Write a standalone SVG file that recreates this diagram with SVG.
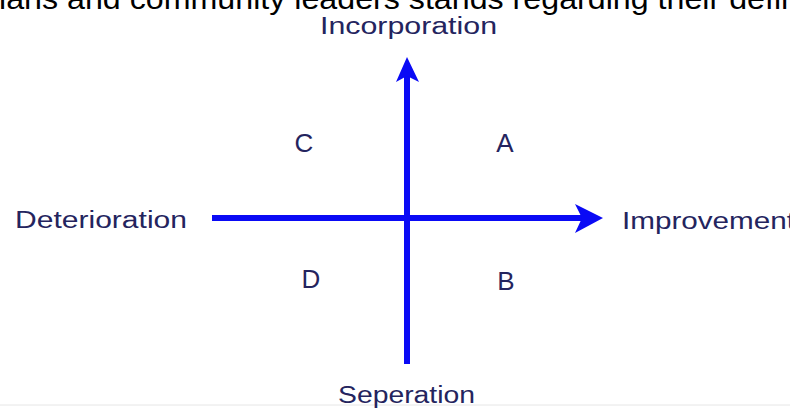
<svg xmlns="http://www.w3.org/2000/svg" width="790" height="409" viewBox="0 0 790 409">
<defs>
<style>
.lbl{font-family:"Liberation Sans",Arial,sans-serif;fill:#24245e;}
.axis{fill:none;stroke:#0a0af5;stroke-width:6;}
.head{fill:#0a0af5;}
.cap{font-family:"Liberation Sans",Arial,sans-serif;fill:#000;font-size:30px;}
</style>
</defs>
<rect width="790" height="409" fill="#fff"/>
<text class="cap" x="-1" y="9" textLength="800" lengthAdjust="spacingAndGlyphs">ians and community leaders stands regarding their defin</text>
<line x1="0" y1="405" x2="790" y2="405" stroke="#e6e6e6" stroke-width="1"/>
<g id="connectors">
<line class="axis" x1="212" y1="218" x2="584" y2="218"/>
<polygon class="head" points="603,218 575,204 582,218 575,233"/>
<line class="axis" x1="407" y1="364" x2="407" y2="76"/>
<polygon class="head" points="407,57 396,82 407,76 419,82"/>
</g>
<g id="incorporation"><text class="lbl" x="320" y="34" font-size="23" textLength="177" lengthAdjust="spacingAndGlyphs">Incorporation</text></g>
<g id="deterioration"><text class="lbl" x="15" y="228" font-size="23" textLength="172" lengthAdjust="spacingAndGlyphs">Deterioration</text></g>
<g id="improvement"><text class="lbl" x="622" y="229" font-size="23" textLength="173" lengthAdjust="spacingAndGlyphs">Improvement</text></g>
<g id="seperation"><text class="lbl" x="338" y="403" font-size="23" textLength="137" lengthAdjust="spacingAndGlyphs">Seperation</text></g>
<g id="quadC"><text class="lbl" x="304" y="152" font-size="26" text-anchor="middle">C</text></g>
<g id="quadA"><text class="lbl" x="505" y="152" font-size="26" text-anchor="middle">A</text></g>
<g id="quadD"><text class="lbl" x="311" y="288" font-size="26" text-anchor="middle">D</text></g>
<g id="quadB"><text class="lbl" x="506" y="290" font-size="26" text-anchor="middle">B</text></g>
</svg>
